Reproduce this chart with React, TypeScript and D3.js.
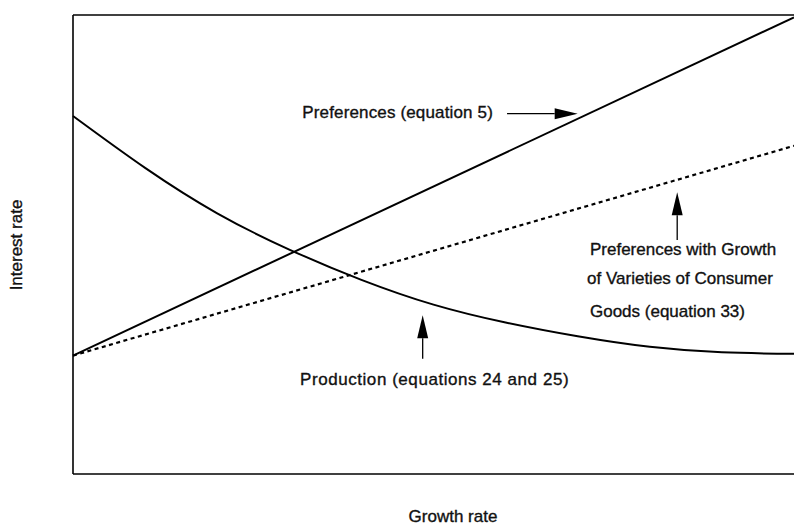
import React from "react";
import * as d3 from "d3";

// growth rate grid (arbitrary units, 0..10)
const growth = [0, 1, 2, 3, 4, 5, 6, 7, 8, 9, 10];
// production curve (equations 24 and 25)
const production = [7.8, 6.67, 5.68, 4.89, 4.23, 3.69, 3.3, 3.0, 2.77, 2.65, 2.62];
// preferences lines are straight: value at growth 0 and growth 10
const prefEnds = [0, 10];
const preferences = [2.58, 9.95];
const prefVarieties = [2.58, 7.15];

const W = 794;
const H = 527;

function Arrow({ x1, y1, x2, y2 }: { x1: number; y1: number; x2: number; y2: number }) {
  // shaft plus filled head pointing to (x2, y2)
  const ang = Math.atan2(y2 - y1, x2 - x1);
  const len = 23, half = 5.5;
  const bx = x2 - len * Math.cos(ang), by = y2 - len * Math.sin(ang);
  const px = -Math.sin(ang) * half, py = Math.cos(ang) * half;
  return (
    <g>
      <line x1={x1} y1={y1} x2={bx} y2={by} stroke="#000" strokeWidth={1.3} />
      <path d={`M${x2},${y2}L${bx + px},${by + py}L${bx - px},${by - py}Z`} fill="#000" />
    </g>
  );
}

export default function App() {
  const x = d3.scaleLinear().domain([0, 10]).range([73, 794]);
  const y = d3.scaleLinear().domain([0, 10]).range([474, 15]);

  const line = d3.line<[number, number]>()
    .x(d => x(d[0]))
    .y(d => y(d[1]));
  const curve = d3.line<[number, number]>()
    .x(d => x(d[0]))
    .y(d => y(d[1]))
    .curve(d3.curveNatural);

  const prodPts = growth.map((g, i) => [g, production[i]] as [number, number]);
  const prefPts = prefEnds.map((g, i) => [g, preferences[i]] as [number, number]);
  const varPts = prefEnds.map((g, i) => [g, prefVarieties[i]] as [number, number]);

  const font = "'Liberation Sans', Arial, Helvetica, sans-serif";
  const fs = 17;
  const txt = { fontSize: fs, fill: "#111", stroke: "#111", strokeWidth: 0.35 };

  return (
    <svg width={W} height={H} style={{ position: "absolute", left: 0, top: 0 }} fontFamily={font}>
      <rect width={W} height={H} fill="#fff" />
      {/* frame: left, top, bottom */}
      <line x1={x(0)} y1={y(10)} x2={x(0)} y2={y(0)} stroke="#000" strokeWidth={1.6} />
      <line x1={x(0)} y1={y(10)} x2={x(10)} y2={y(10)} stroke="#000" strokeWidth={1.4} />
      <line x1={x(0)} y1={y(0)} x2={x(10)} y2={y(0)} stroke="#000" strokeWidth={1.6} />

      <path d={curve(prodPts) ?? ""} fill="none" stroke="#000" strokeWidth={2} />
      <path d={line(prefPts) ?? ""} fill="none" stroke="#000" strokeWidth={2} />
      <path d={line(varPts) ?? ""} fill="none" stroke="#000" strokeWidth={2.2} strokeDasharray="4,3.5" />

      {/* annotations */}
      <text x={x(3.18)} y={y(7.75)} {...txt} letterSpacing={0.15}>Preferences (equation 5)</text>
      <Arrow x1={x(6.02)} y1={y(7.85)} x2={x(7.0)} y2={y(7.85)} />

      <Arrow x1={x(8.38)} y1={y(5.1)} x2={x(8.38)} y2={y(6.14)} />
      <text x={x(7.17)} y={y(4.77)} {...txt}>Preferences with Growth</text>
      <text x={x(7.13)} y={y(4.14)} {...txt}>of Varieties of Consumer</text>
      <text x={x(7.17)} y={y(3.42)} {...txt}>Goods (equation 33)</text>

      <Arrow x1={x(4.85)} y1={y(2.51)} x2={x(4.85)} y2={y(3.46)} />
      <text x={x(3.15)} y={y(1.94)} {...txt} letterSpacing={0.55}>Production (equations 24 and 25)</text>

      {/* axis titles */}
      <text x={453} y={522} {...txt} textAnchor="middle">Growth rate</text>
      <text transform="translate(22,245) rotate(-90)" {...txt} textAnchor="middle">Interest rate</text>
    </svg>
  );
}
